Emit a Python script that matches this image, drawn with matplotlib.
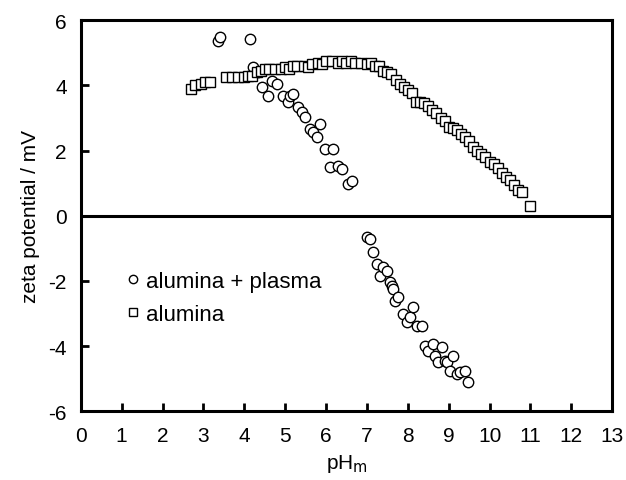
import matplotlib
matplotlib.use("Agg")
import matplotlib.pyplot as plt

plt.rcParams['font.family'] = ['Liberation Sans', 'DejaVu Sans']
plt.rcParams['axes.unicode_minus'] = False

# alumina + plasma (circles)
ph_plasma = [3.35, 3.4, 4.15, 4.21, 4.33, 4.43, 4.58, 4.68, 4.8, 4.94, 5.07, 5.12, 5.19,
             5.31, 5.41, 5.48, 5.61, 5.68, 5.78, 5.85, 5.97, 6.1, 6.17, 6.29, 6.39, 6.54, 6.63,
             7.0, 7.07, 7.15, 7.25, 7.32, 7.39, 7.49, 7.56, 7.61, 7.64, 7.69, 7.76, 7.88,
             7.98, 8.05, 8.13, 8.23, 8.35, 8.42, 8.49, 8.62, 8.67, 8.74, 8.84, 8.91, 8.96,
             9.03, 9.11, 9.2, 9.28, 9.4, 9.47]
zeta_plasma = [5.35, 5.47, 5.42, 4.55, 4.4, 3.94, 3.67, 4.13, 4.03, 3.67, 3.48, 3.67, 3.73,
               3.33, 3.17, 3.02, 2.65, 2.56, 2.41, 2.81, 2.04, 1.49, 2.04, 1.52, 1.43, 0.97, 1.06,
               -0.66, -0.72, -1.12, -1.49, -1.86, -1.58, -1.7, -2.04, -2.16, -2.25, -2.62, -2.5, -3.02,
               -3.27, -3.11, -2.81, -3.39, -3.39, -4.0, -4.16, -3.94, -4.31, -4.49, -4.03, -4.46, -4.49,
               -4.77, -4.31, -4.86, -4.8, -4.77, -5.11]

# alumina (squares)
ph_alumina = [2.7, 2.8, 2.95, 3.05, 3.15, 3.55, 3.7, 3.85, 4.0, 4.1, 4.2, 4.3, 4.4, 4.5,
              4.6, 4.75, 4.9, 5.0, 5.1, 5.2, 5.3, 5.45, 5.55, 5.65, 5.8, 5.9, 6.0, 6.15,
              6.3, 6.4, 6.5, 6.6, 6.7, 6.85, 7.0, 7.1, 7.2, 7.3, 7.4, 7.5, 7.6, 7.7, 7.8,
              7.9, 8.0, 8.1, 8.2, 8.3, 8.4, 8.5, 8.6, 8.7, 8.8, 8.9, 9.0, 9.1, 9.2, 9.3,
              9.4, 9.5, 9.6, 9.7, 9.8, 9.9, 10.0, 10.1, 10.2, 10.3, 10.4, 10.5, 10.6,
              10.7, 10.8, 11.0]
zeta_alumina = [3.9, 4.0, 4.05, 4.1, 4.1, 4.25, 4.25, 4.25, 4.25, 4.3, 4.3, 4.4, 4.45, 4.5,
                4.5, 4.5, 4.5, 4.55, 4.5, 4.6, 4.6, 4.6, 4.55, 4.65, 4.7, 4.65, 4.75, 4.75,
                4.7, 4.75, 4.7, 4.75, 4.7, 4.7, 4.65, 4.7, 4.6, 4.6, 4.45, 4.4, 4.35, 4.15,
                4.05, 3.95, 3.85, 3.75, 3.5, 3.48, 3.45, 3.36, 3.25, 3.15, 3.0, 2.9, 2.72,
                2.68, 2.62, 2.5, 2.42, 2.3, 2.1, 2.0, 1.88, 1.8, 1.66, 1.58, 1.45, 1.3,
                1.2, 1.1, 0.95, 0.8, 0.72, 0.3]

fig = plt.figure(figsize=(6.26, 4.81), dpi=100)
ax = fig.add_axes([0.129, 0.143, 0.849, 0.813])

ax.plot(ph_plasma, zeta_plasma, 'o', mfc='white', mec='black', mew=1.0, ms=7.5,
        label='alumina + plasma', linestyle='none')
ax.plot(ph_alumina, zeta_alumina, 's', mfc='white', mec='black', mew=1.0, ms=7,
        label='alumina', linestyle='none')
ax.axhline(0, color='black', lw=2.2, zorder=0)

ax.set_xlim(0, 13)
ax.set_ylim(-6, 6)
ax.set_xticks(range(0, 14))
ax.set_yticks(range(-6, 7, 2))
ax.tick_params(direction='in', length=6, width=2, labelsize=15, top=False, right=False)
ax.tick_params(axis='x', pad=11)
ax.tick_params(axis='y', pad=10)
for s in ax.spines.values():
    s.set_linewidth(2.2)

ax.set_xlabel('pH$_\\mathrm{m}$', fontsize=15, labelpad=5)
ax.set_ylabel('zeta potential / mV', fontsize=15, labelpad=6)

ax.legend(loc='lower left', bbox_to_anchor=(0.04, 0.17), frameon=False, fontsize=16,
          handletextpad=0.1, labelspacing=0.55, handlelength=1.0, markerscale=0.8)

fig.savefig('out.png', dpi=100)
